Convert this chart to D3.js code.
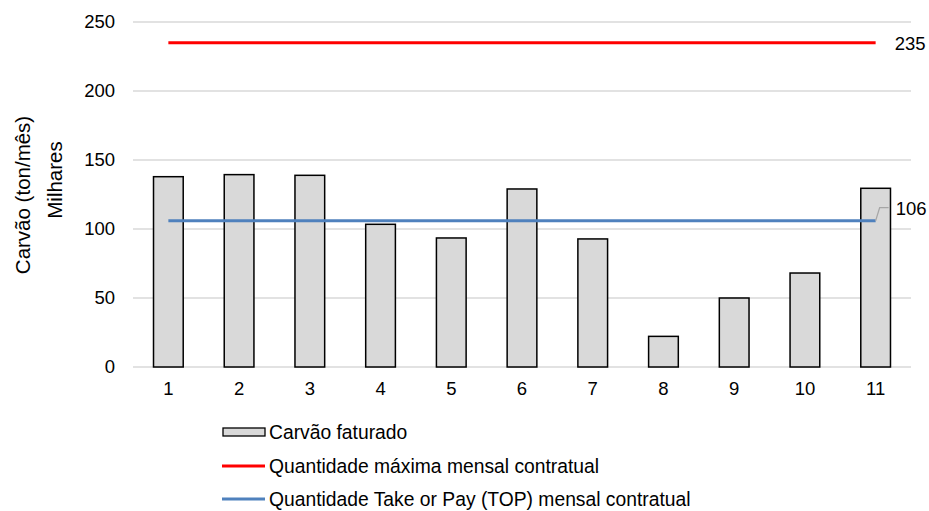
<!DOCTYPE html>
<html>
<head>
<meta charset="utf-8">
<script src="https://cdn.jsdelivr.net/npm/d3@7"></script>
<style>
  body { margin: 0; background: #fff; }
  svg { font-family: "Liberation Sans", Arial, sans-serif; }
</style>
</head>
<body>
<svg id="chart" width="929" height="511"></svg>
<script>
// Monthly invoiced coal (thousand tonnes) against contractual limits
const months = ["1", "2", "3", "4", "5", "6", "7", "8", "9", "10", "11"];
const faturado = [137.9, 139.4, 138.9, 103.4, 93.5, 129, 92.8, 22.2, 50, 68.1, 129.5];
const maxMensal = 235;
const topMensal = 106;
const yTicks = [0, 50, 100, 150, 200, 250];
const legendLabels = [
  "Carvão faturado",
  "Quantidade máxima mensal contratual",
  "Quantidade Take or Pay (TOP) mensal contratual"
];

const svg = d3.select("#chart");
const plotLeft = 133, plotRight = 911, plotTop = 22, plotBottom = 367;
const fs = 18.5;

const x = d3.scaleBand().domain(months).range([plotLeft, plotRight]).paddingInner(0.58).paddingOuter(0.29);
const y = d3.scaleLinear().domain([0, 250]).range([plotBottom, plotTop]);
const cx = d => x(d) + x.bandwidth() / 2;

// gridlines
svg.append("g").selectAll("line").data(yTicks).join("line")
  .attr("x1", plotLeft).attr("x2", plotRight)
  .attr("y1", d => y(d)).attr("y2", d => y(d))
  .attr("stroke", "#d9d9d9").attr("stroke-width", 1.3);

// y axis labels
const yAxis = d3.axisLeft(y).tickValues(yTicks).tickSize(0).tickPadding(0);
const ya = svg.append("g").attr("transform", `translate(${plotLeft - 18},0)`).call(yAxis);
ya.select(".domain").remove();
ya.selectAll("text").attr("font-size", fs).attr("fill", "#000")
  .attr("font-family", "Liberation Sans, Arial, sans-serif");

// x axis labels
const xAxis = d3.axisBottom(x).tickSize(0).tickPadding(0);
const xa = svg.append("g").attr("transform", `translate(0,${plotBottom + 15})`).call(xAxis);
xa.select(".domain").remove();
xa.selectAll("text").attr("font-size", fs).attr("fill", "#000")
  .attr("font-family", "Liberation Sans, Arial, sans-serif");

// bars
svg.append("g").selectAll("rect").data(faturado).join("rect")
  .attr("x", (d, i) => x(months[i]))
  .attr("y", d => y(d))
  .attr("width", x.bandwidth())
  .attr("height", d => y(0) - y(d))
  .attr("fill", "#d9d9d9").attr("stroke", "#000").attr("stroke-width", 1.5);

// contractual lines
const lineGen = d3.line().x(d => cx(d[0])).y(d => y(d[1]));
svg.append("path")
  .attr("d", lineGen(months.map(m => [m, maxMensal])))
  .attr("fill", "none").attr("stroke", "#ff0000").attr("stroke-width", 3);
svg.append("path")
  .attr("d", lineGen(months.map(m => [m, topMensal])))
  .attr("fill", "none").attr("stroke", "#4f81bd").attr("stroke-width", 3);

// end labels
const lastX = cx(months[months.length - 1]);
svg.append("text").attr("x", lastX + 19).attr("y", y(maxMensal) + 7)
  .attr("font-size", fs).text(maxMensal);
svg.append("path")
  .attr("d", `M${lastX},${y(topMensal)} L${lastX + 4},${y(topMensal) - 13} L${lastX + 13},${y(topMensal) - 13}`)
  .attr("fill", "none").attr("stroke", "#a6a6a6").attr("stroke-width", 1.2);
svg.append("text").attr("x", lastX + 20).attr("y", y(topMensal) - 6)
  .attr("font-size", fs).text(topMensal);

// axis titles
svg.append("text").attr("transform", `translate(30,195) rotate(-90)`)
  .attr("text-anchor", "middle").attr("font-size", 20.5).text("Carvão (ton/mês)");
svg.append("text").attr("transform", `translate(62,180) rotate(-90)`)
  .attr("text-anchor", "middle").attr("font-size", 20.5).text("Milhares");

// legend
const lg = svg.append("g");
const rowY = [432, 466, 499];
lg.append("rect").attr("x", 223).attr("y", rowY[0] - 4).attr("width", 42).attr("height", 8)
  .attr("fill", "#d9d9d9").attr("stroke", "#000").attr("stroke-width", 1.3);
lg.append("line").attr("x1", 222).attr("x2", 265).attr("y1", rowY[1]).attr("y2", rowY[1])
  .attr("stroke", "#ff0000").attr("stroke-width", 3);
lg.append("line").attr("x1", 222).attr("x2", 265).attr("y1", rowY[2]).attr("y2", rowY[2])
  .attr("stroke", "#4f81bd").attr("stroke-width", 3);
lg.selectAll("text").data(legendLabels).join("text")
  .attr("x", 269).attr("y", (d, i) => rowY[i] + 7)
  .attr("font-size", 19.3).text(d => d);
</script>
</body>
</html>
